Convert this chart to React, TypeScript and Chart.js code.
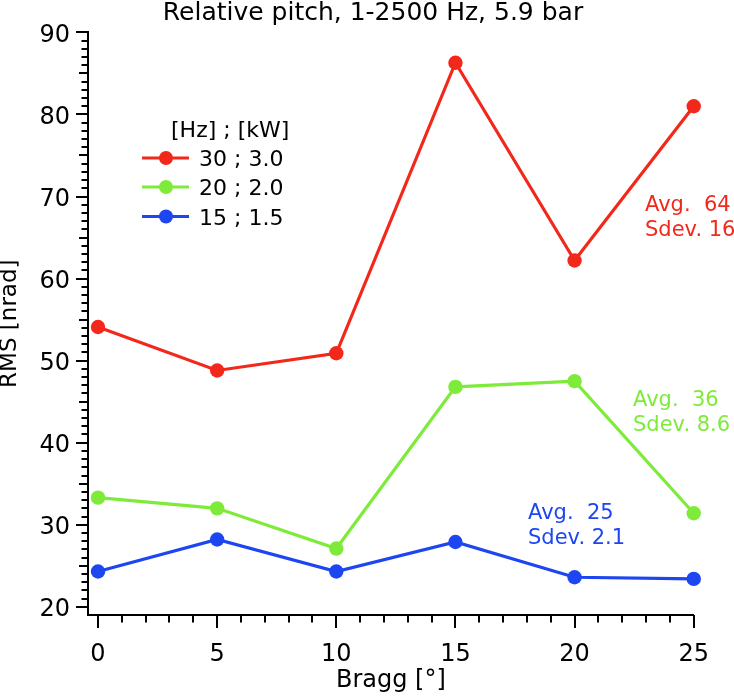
import React, { useEffect, useRef } from 'react';
import { Chart, registerables } from 'chart.js';

Chart.register(...registerables);

const braggAngles = [0, 5, 10, 15, 20, 25];
const rms30Hz = [54.1, 48.8, 50.9, 86.3, 62.2, 81.0];
const rms20Hz = [33.3, 32.0, 27.1, 46.8, 47.5, 31.4];
const rms15Hz = [24.3, 28.2, 24.3, 27.9, 23.6, 23.4];
const seriesLabels = ['30 ; 3.0', '20 ; 2.0', '15 ; 1.5'];
const seriesColors = ['#F2281A', '#7EEB3A', '#1E46F0'];
const avgLabels = ['Avg.  64', 'Avg.  36', 'Avg.  25'];
const sdevLabels = ['Sdev. 16', 'Sdev. 8.6', 'Sdev. 2.1'];
const xTickValues = [0, 5, 10, 15, 20, 25];
const yTickValues = [20, 30, 40, 50, 60, 70, 80, 90];
const chartTitle = 'Relative pitch, 1-2500 Hz, 5.9 bar';
const legendTitle = '[Hz] ; [kW]';
const xTitle = 'Bragg [°]';
const yTitle = 'RMS [nrad]';

const FONT = 'DejaVu Sans';

const decorPlugin = {
  id: 'decor',
  afterDraw(chart: any) {
    const ctx = chart.ctx;
    const xs = chart.scales.x;
    const ys = chart.scales.y;
    const { left, bottom } = chart.chartArea;
    ctx.save();
    ctx.strokeStyle = '#000';
    ctx.lineWidth = 2;
    ctx.lineCap = 'butt';
    // y ticks (major / mid / minor)
    for (let v = yTickValues[0]; v <= yTickValues[yTickValues.length - 1]; v++) {
      const py = Math.round(ys.getPixelForValue(v));
      const len = v % 10 === 0 ? 12 : v % 5 === 0 ? 9 : 6.5;
      ctx.beginPath();
      ctx.moveTo(left, py);
      ctx.lineTo(left - len, py);
      ctx.stroke();
    }
    // x ticks
    for (let v = xTickValues[0]; v <= xTickValues[xTickValues.length - 1]; v++) {
      const px = Math.round(xs.getPixelForValue(v));
      const len = v % 5 === 0 ? 13 : 7.5;
      ctx.beginPath();
      ctx.moveTo(px, bottom);
      ctx.lineTo(px, bottom + len);
      ctx.stroke();
    }

    // title
    ctx.fillStyle = '#000';
    ctx.font = `25px "${FONT}"`;
    ctx.textAlign = 'center';
    ctx.textBaseline = 'alphabetic';
    ctx.fillText(chartTitle, 373, 20);

    // legend
    ctx.textAlign = 'left';
    ctx.font = `22px "${FONT}"`;
    ctx.fillText(legendTitle, 171, 137);
    const rowY = [158, 187, 216.5];
    chart.data.datasets.forEach((ds: any, i: number) => {
      const y = rowY[i];
      ctx.strokeStyle = ds.borderColor;
      ctx.lineWidth = 3;
      ctx.beginPath();
      ctx.moveTo(142, y);
      ctx.lineTo(189, y);
      ctx.stroke();
      ctx.fillStyle = ds.borderColor;
      ctx.beginPath();
      ctx.arc(166, y, 7, 0, Math.PI * 2);
      ctx.fill();
      ctx.fillStyle = '#000';
      ctx.fillText(ds.label, 199, y + 8);
    });

    // annotations
    const annPos = [
      [645, 211],
      [633, 406],
      [528, 519],
    ];
    ctx.font = `21px "${FONT}"`;
    annPos.forEach((p, i) => {
      ctx.fillStyle = seriesColors[i];
      ctx.fillText(avgLabels[i], p[0], p[1]);
      ctx.fillText(sdevLabels[i], p[0], p[1] + 25);
    });
    ctx.restore();
  },
};

export default function App() {
  const canvasRef = useRef<HTMLCanvasElement | null>(null);

  useEffect(() => {
    if (!canvasRef.current) return;
    const series = [rms30Hz, rms20Hz, rms15Hz];
    const chart = new Chart(canvasRef.current, {
      type: 'line',
      data: {
        datasets: series.map((vals, i) => ({
          label: seriesLabels[i],
          data: braggAngles.map((a, j) => ({ x: a, y: vals[j] })),
          borderColor: seriesColors[i],
          backgroundColor: seriesColors[i],
          pointBackgroundColor: seriesColors[i],
          pointBorderWidth: 0,
          pointRadius: 7.2,
          borderWidth: 3.2,
          tension: 0,
          fill: false,
          clip: false as any,
        })),
      },
      options: {
        responsive: false,
        animation: false,
        devicePixelRatio: 1,
        layout: { padding: { top: 20, right: 38, left: 0, bottom: 0 } },
        plugins: {
          legend: { display: false },
          tooltip: { enabled: false },
          title: { display: false },
        },
        scales: {
          x: {
            type: 'linear',
            min: -0.42,
            max: 25,
            afterBuildTicks: (s: any) => {
              s.ticks = xTickValues.map((v) => ({ value: v }));
            },
            afterFit: (s: any) => {
              s.height = 84;
            },
            grid: { drawOnChartArea: false, drawTicks: false },
            border: { display: true, color: '#000', width: 2 },
            ticks: {
              padding: 25,
              color: '#000',
              maxRotation: 0,
              autoSkip: false,
              font: { family: FONT, size: 24 },
            },
            title: {
              display: true,
              text: xTitle,
              color: '#000',
              font: { family: FONT, size: 24 },
              padding: { top: 4, bottom: 4 },
            },
          },
          y: {
            type: 'linear',
            min: 19,
            max: 90,
            afterBuildTicks: (s: any) => {
              s.ticks = yTickValues.map((v) => ({ value: v }));
            },
            afterFit: (s: any) => {
              s.width = 88;
            },
            grid: { drawOnChartArea: false, drawTicks: false },
            border: { display: true, color: '#000', width: 2 },
            ticks: {
              padding: 18,
              labelOffset: 3,
              color: '#000',
              autoSkip: false,
              font: { family: FONT, size: 24 },
            },
            title: {
              display: true,
              text: yTitle,
              color: '#000',
              font: { family: FONT, size: 23, lineHeight: 0.9 },
              padding: { top: 0, bottom: 0 },
            },
          },
        },
      },
      plugins: [decorPlugin],
    } as any);
    return () => chart.destroy();
  }, []);

  return (
    <div style={{ position: 'absolute', left: 0, top: 0, width: 734, height: 699, background: '#fff' }}>
      <canvas ref={canvasRef} width={734} height={699} />
    </div>
  );
}
